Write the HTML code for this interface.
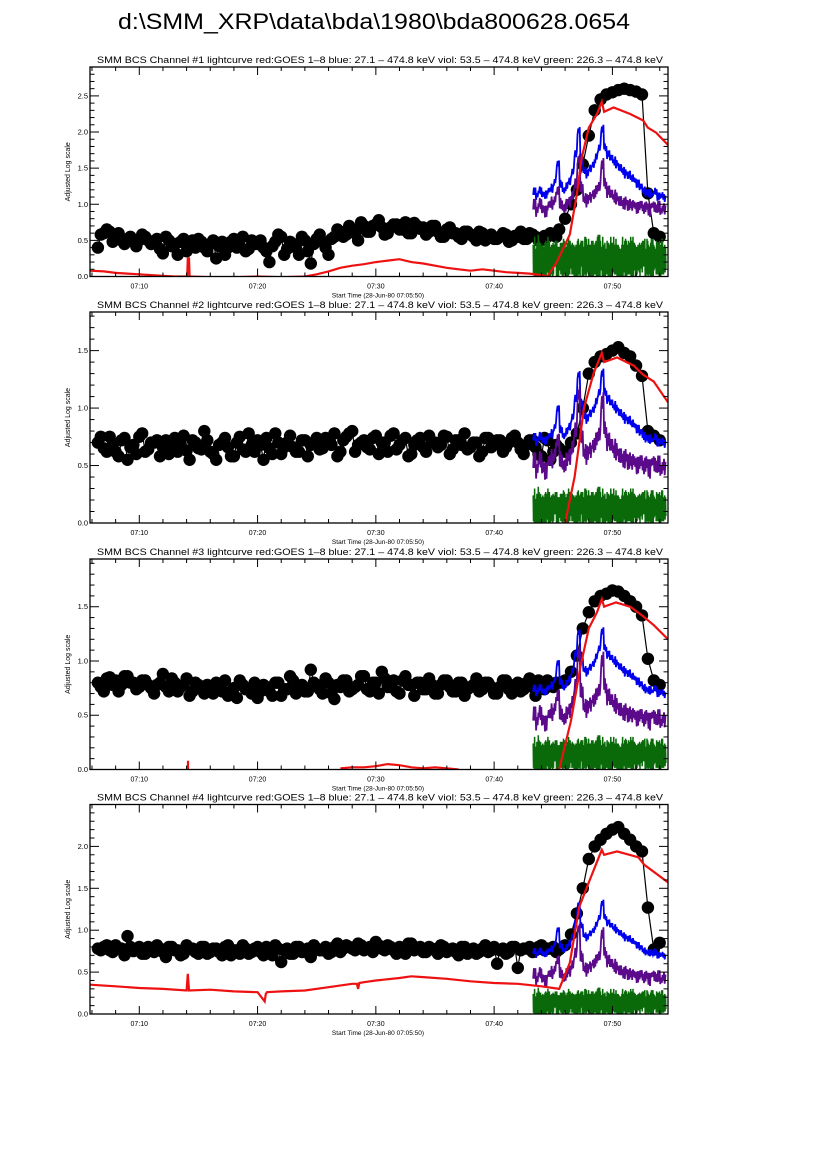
<!DOCTYPE html>
<html><head><meta charset="utf-8"><title>bda800628.0654</title>
<style>html,body{margin:0;padding:0;background:#fff}svg{display:block}text{font-family:"Liberation Sans",sans-serif}</style>
</head><body>
<svg id="chart" width="826" height="1169" viewBox="0 0 826 1169" xmlns="http://www.w3.org/2000/svg">
<rect width="826" height="1169" fill="#fff"/>
<text x="118" y="29" font-size="22" textLength="512" lengthAdjust="spacingAndGlyphs">d:\SMM_XRP\data\bda\1980\bda800628.0654</text>
</svg>
<script>
// ---------- data ----------
const xTickLabels = ["07:10","07:20","07:30","07:40","07:50"];
const xTickMinutes = [10,20,30,40,50];
const channelNames = ["#1","#2","#3","#4"];
const yMaxes = [2.9, 1.836, 1.94, 2.5];
const yTickLabels = [["0.0","0.5","1.0","1.5","2.0","2.5"],["0.0","0.5","1.0","1.5"],["0.0","0.5","1.0","1.5"],["0.0","0.5","1.0","1.5","2.0"]];

// black BCS points, one every 0.5 min from 6.5 to 54.0
const black1 = [0.40,0.60,0.62,0.55,0.50,0.52,0.48,0.50,
0.55,0.45,0.52,0.32,0.50,0.45,0.48,0.35,0.50,0.52,
0.40,0.45,0.25,0.48,0.40,0.52,0.42,0.35,0.50,0.45,
0.40,0.20,0.48,0.55,0.38,0.45,0.30,0.50,0.18,0.52,
0.48,0.30,0.55,0.62,0.58,0.65,0.50,0.70,0.62,0.72,
0.68,0.60,0.72,0.65,0.75,0.60,0.70,0.68,0.62,0.70,
0.55,0.65,0.60,0.55,0.62,0.58,0.50,0.60,0.55,0.52,
0.55,0.58,0.50,0.55,0.52,0.60,0.55,0.50,0.55,0.58,
0.65,0.80,1.00,1.20,1.55,1.95,2.30,2.45,2.52,2.55,
2.58,2.60,2.58,2.56,2.52,1.15,0.60,0.55];
const black2 = [0.70,0.65,0.75,0.62,0.72,0.55,0.68,0.75,
0.62,0.70,0.72,0.66,0.60,0.74,0.68,0.63,0.72,0.65,
0.80,0.62,0.55,0.70,0.66,0.58,0.75,0.62,0.68,0.72,
0.55,0.65,0.78,0.60,0.70,0.66,0.62,0.72,0.68,0.74,
0.65,0.70,0.78,0.62,0.75,0.80,0.68,0.72,0.64,0.76,
0.70,0.62,0.78,0.68,0.74,0.60,0.72,0.66,0.76,0.70,
0.68,0.75,0.64,0.72,0.78,0.66,0.70,0.62,0.74,0.68,
0.72,0.66,0.74,0.70,0.60,0.72,0.66,0.58,0.72,0.62,
0.65,0.62,0.70,0.78,1.00,1.30,1.40,1.45,1.47,1.50,
1.53,1.48,1.45,1.37,1.28,0.80,0.76,0.72];
const black3 = [0.80,0.72,0.85,0.82,0.78,0.86,0.80,0.76,
0.82,0.75,0.78,0.88,0.72,0.80,0.76,0.84,0.72,0.78,
0.70,0.76,0.80,0.72,0.68,0.75,0.82,0.74,0.70,0.66,
0.78,0.72,0.80,0.68,0.74,0.82,0.76,0.72,0.92,0.78,
0.70,0.80,0.65,0.76,0.82,0.74,0.78,0.86,0.72,0.80,
0.90,0.76,0.82,0.70,0.86,0.78,0.80,0.74,0.84,0.70,
0.78,0.82,0.72,0.80,0.68,0.76,0.84,0.74,0.80,0.70,
0.76,0.82,0.70,0.80,0.74,0.84,0.68,0.78,0.82,0.76,
0.80,0.82,0.90,1.05,1.30,1.45,1.55,1.60,1.62,1.65,
1.64,1.60,1.55,1.50,1.42,1.02,0.82,0.78];
const black4 = [0.78,0.80,0.76,0.82,0.78,0.93,0.75,0.80,
0.72,0.78,0.82,0.74,0.80,0.76,0.70,0.82,0.78,0.72,
0.80,0.74,0.78,0.70,0.82,0.76,0.72,0.78,0.74,0.80,
0.70,0.76,0.82,0.62,0.78,0.72,0.80,0.74,0.68,0.78,
0.76,0.72,0.80,0.74,0.82,0.78,0.84,0.76,0.80,0.86,
0.78,0.82,0.76,0.80,0.72,0.84,0.78,0.74,0.80,0.76,
0.82,0.74,0.78,0.70,0.80,0.76,0.72,0.78,0.74,0.80,
0.76,0.72,0.80,0.55,0.78,0.80,0.76,0.82,0.78,0.80,
0.77,0.82,0.95,1.20,1.50,1.85,2.00,2.08,2.15,2.20,
2.23,2.15,2.08,2.00,1.94,1.27,0.77,0.85];
// interleaved pre-flare points, every 0.5 min from 6.75 to 45.25
const black1b = [0.58,0.65,0.48,0.60,0.45,0.55,0.42,0.58,0.50,
0.48,0.38,0.55,0.42,0.30,0.52,0.45,0.40,0.48,
0.35,0.50,0.42,0.30,0.48,0.40,0.55,0.38,0.45,
0.50,0.35,0.42,0.58,0.30,0.48,0.40,0.55,0.35,
0.45,0.58,0.40,0.52,0.65,0.55,0.70,0.60,0.75,
0.62,0.70,0.78,0.58,0.68,0.72,0.65,0.60,0.74,
0.66,0.58,0.70,0.62,0.55,0.68,0.60,0.52,0.62,
0.55,0.62,0.50,0.58,0.52,0.60,0.48,0.56,0.62,
0.52,0.58,0.50,0.56,0.60,0.55];
const black2b = [0.75,0.62,0.68,0.58,0.74,0.66,0.60,0.78,0.64,
0.70,0.58,0.72,0.66,0.62,0.76,0.55,0.70,0.64,
0.72,0.60,0.68,0.74,0.58,0.70,0.64,0.78,0.62,
0.68,0.74,0.60,0.70,0.66,0.76,0.62,0.72,0.58,
0.70,0.64,0.74,0.68,0.58,0.72,0.78,0.62,0.70,
0.66,0.74,0.60,0.70,0.76,0.64,0.72,0.58,0.68,
0.74,0.62,0.70,0.66,0.76,0.60,0.72,0.68,0.64,
0.70,0.58,0.74,0.66,0.72,0.62,0.70,0.76,0.64,
0.68,0.72,0.60,0.74,0.55,0.68];
const black3b = [0.76,0.84,0.78,0.72,0.86,0.80,0.74,0.82,0.78,
0.70,0.80,0.76,0.84,0.72,0.78,0.68,0.80,0.74,
0.78,0.70,0.76,0.82,0.72,0.66,0.78,0.74,0.80,
0.72,0.76,0.68,0.80,0.74,0.86,0.70,0.78,0.72,
0.80,0.74,0.84,0.70,0.78,0.82,0.72,0.76,0.86,
0.74,0.80,0.70,0.84,0.76,0.72,0.82,0.78,0.68,
0.80,0.74,0.78,0.70,0.82,0.76,0.72,0.80,0.74,
0.78,0.72,0.80,0.76,0.70,0.82,0.74,0.78,0.72,
0.80,0.76,0.82,0.74,0.78,0.80];
const black4b = [0.76,0.82,0.74,0.78,0.70,0.80,0.76,0.72,0.80,
0.74,0.78,0.68,0.80,0.76,0.72,0.78,0.74,0.80,
0.72,0.78,0.74,0.80,0.70,0.76,0.82,0.72,0.78,
0.74,0.80,0.70,0.78,0.76,0.72,0.80,0.74,0.78,
0.82,0.76,0.80,0.74,0.84,0.78,0.80,0.76,0.82,
0.78,0.74,0.82,0.76,0.80,0.72,0.78,0.84,0.76,
0.80,0.74,0.78,0.72,0.80,0.76,0.74,0.80,0.72,
0.78,0.74,0.82,0.76,0.60,0.78,0.74,0.80,0.76,
0.78,0.74,0.80,0.76,0.78,0.74];
const blackSeries = [black1, black2, black3, black4];
const blackSeriesB = [black1b, black2b, black3b, black4b];

// GOES red curves (minutes after 07:00, value); null = gap
const red1T = [5.83,7,8,9,10,11,12,13,14.05,14.1,14.2,14.25,16,18,20,22,24,25,26,27,28,29,30,31,32,33,34,35,36,37,38,39,40,41,42,43,44,44.5,45.3,46.4,47.0,47.4,48.0,48.7,49.1,49.3,50.1,51.5,52.6,53.0,53.7,54.7];
const red1V = [0.08,0.07,0.05,0.04,0.03,0.02,0.01,0.0,0.0,0.25,0.25,0.0,-0.01,-0.01,0.0,-0.01,0.0,0.03,0.07,0.12,0.15,0.17,0.2,0.22,0.24,0.2,0.18,0.15,0.12,0.1,0.08,0.1,0.08,0.06,0.05,0.04,0.02,0.0,0.2,0.58,1.14,1.64,2.06,2.25,2.42,2.28,2.34,2.25,2.16,2.06,1.99,1.82];
const red2T = [45.9,46.8,47.6,48.4,49.1,49.3,50.4,51.8,52.6,53.5,54.7];
const red2V = [-0.05,0.4,1.0,1.3,1.48,1.4,1.44,1.37,1.29,1.23,1.05];
const red3T = [14.12,14.12,20,27,28,29,30,31,32,33,34,35,36,37,40,45.5,46.5,47.3,48.0,48.7,49.1,49.3,50.3,51.5,52.5,53.5,54.7];
const red3V = [0,0.08,null,0.01,0.02,0.02,0.03,0.05,0.04,0.02,0.01,0.02,0.01,0.0,null,0.0,0.45,0.95,1.3,1.45,1.57,1.5,1.54,1.5,1.42,1.33,1.2];
const red4T = [5.83,8,10,12,14.0,14.1,14.2,16,18,20,20.6,20.7,20.8,22,24,26,28,28.4,28.5,28.6,29,30,32,33,34,36,38,40,42,44,45.5,46.4,47.2,48.0,49.1,49.3,50.4,52.2,52.7,54.7];
const red4V = [0.35,0.33,0.31,0.30,0.28,0.48,0.28,0.29,0.27,0.26,0.15,0.24,0.26,0.27,0.28,0.32,0.36,0.36,0.30,0.37,0.38,0.40,0.43,0.45,0.44,0.42,0.39,0.37,0.36,0.33,0.30,0.61,1.28,1.57,1.96,1.9,1.94,1.87,1.78,1.57];
const redT = [red1T, red2T, red3T, red4T];
const redV = [red1V, red2V, red3V, red4V];

// HXR channels, normalised shape (0 = pre-flare level, 1 = peak), 0.25 min bins from 43.3
const blueShape = [0.02,-0.03,0.05,0.0,-0.02,0.04,0.08,
0.2,0.45,0.15,0.05,0.1,0.2,0.35,0.6,0.95,0.55,
0.35,0.3,0.4,0.45,0.55,0.7,1.0,0.7,0.6,0.55,
0.5,0.45,0.4,0.35,0.3,0.28,0.25,0.2,0.15,0.1,
0.05,0.02,0.0,-0.02,0.03,-0.05,-0.03,-0.06];
const violetShape = [0.05,-0.05,0.1,0.0,-0.08,0.05,0.1,
0.2,0.35,0.1,0.0,0.05,0.15,0.3,0.5,1.0,0.45,
0.2,0.15,0.25,0.3,0.35,0.45,0.95,0.5,0.35,0.3,
0.25,0.2,0.15,0.1,0.1,0.05,0.08,0.05,0.0,0.05,
0.0,0.05,-0.05,0.05,0.0,0.02,-0.05,0.0];
const greenHigh = [0.8,0.7,0.9,0.75,0.85,1.0,0.7,0.8,0.9,0.65,0.85,0.75,1.0,0.8,0.7,0.9,0.85,0.75,0.95,0.8,0.7,0.85,1.05,0.75,0.8,0.9,0.7,0.85,0.95,0.75,0.8,0.9,0.7,1.0,0.8,0.75,0.85,0.9,0.7,0.8,0.95,0.75,0.85,0.8,0.7];
const greenLow = [0.05,0.0,0.2,0.0,0.1,0.0,0.05,0.25,0.0,0.15,0.0,0.0,0.2,0.05,0.1,0.0,0.3,0.0,0.05,0.0,0.2,0.05,0.0,0.15,0.0,0.25,0.0,0.1,0.05,0.0,0.2,0.0,0.05,0.0,0.15,0.05,0.0,0.25,0.0,0.1,0.0,0.2,0.05,0.0,0.05];
const hxrNoise = [0.6,1.0,0.4,0.8,0.9,0.3,0.7,1.0,0.5,0.8,0.4,0.9,0.6,1.0,0.3,0.7,0.8,0.5,1.0,0.6,0.4,0.9,0.7,0.8,0.3,1.0,0.6,0.5,0.9,0.7,0.4,1.0,0.8,0.6,0.3,0.9,0.7,0.5,1.0,0.8,0.4,0.6,0.9,0.7,0.5];
const blueBase = [1.15,0.73,0.73,0.73];
const bluePeak = [2.05,1.31,1.28,1.33];
const violetBase = [0.95,0.50,0.47,0.44];
const violetPeak = [1.60,1.10,1.05,1.00];
const greenTop = [0.55,0.30,0.30,0.30];

// ---------- layout ----------
const NS = "http://www.w3.org/2000/svg";
const svg = document.getElementById("chart");
const L = 90, R = 668, tMin = 5.833, tMax = 54.7;
const panelTops = [67, 312, 559, 804.5];
const panelBottoms = [276.5, 523, 769.5, 1014];
const xs = t => L + (t - tMin) / (tMax - tMin) * (R - L);

function mk(tag, attrs, parent) {
  const e = document.createElementNS(NS, tag);
  for (const k in attrs) e.setAttribute(k, attrs[k]);
  (parent || svg).appendChild(e);
  return e;
}

const blackT = [];
for (let k = 0; k < 96; k++) blackT.push(6.5 + 0.5 * k);
const blackTB = [];
for (let k = 0; k < 78; k++) blackTB.push(6.75 + 0.5 * k);
const hxrT = [];
for (let k = 0; k < 45; k++) hxrT.push(43.3 + 0.25 * k);

for (let p = 0; p < 4; p++) {
  const top = panelTops[p], bot = panelBottoms[p], ymax = yMaxes[p];
  const ys = v => bot - v / ymax * (bot - top);
  const g = mk("g", {});
  
  

  const cp = mk("clipPath", { id: "clip" + p }, g);
  mk("rect", { x: L, y: top, width: R - L, height: bot - top }, cp);
  const plot = mk("g", { "clip-path": "url(#clip" + p + ")" }, g);
  
  

  // black line + dots (merge both samplings by time)
  const pts = [];
  blackT.forEach((t, i) => pts.push([t, blackSeries[p][i]]));
  blackTB.forEach((t, i) => pts.push([t, blackSeriesB[p][i]]));
  pts.sort((a, b) => a[0] - b[0]);
  const bl = mk("polyline", { points: pts.map(q => xs(q[0]).toFixed(1) + "," + ys(q[1]).toFixed(1)).join(" "), fill: "none", stroke: "#000", "stroke-width": 1.2 }, plot);
  
  
  pts.forEach(q => {
    const c = mk("circle", { cx: xs(q[0]).toFixed(1), cy: ys(q[1]).toFixed(1), r: 6.2, fill: "#000" }, plot);
    
    
  });

  // blue and violet HXR
  const band = (shape, base, peak, w, color, name) => {
    const pp = [];
    hxrT.forEach((t, i) => {
      const v = base + shape[i] * (peak - base);
      pp.push(xs(t).toFixed(1) + "," + ys(v - w * hxrNoise[i]).toFixed(1));
      pp.push(xs(t + 0.0625).toFixed(1) + "," + ys(v + w * hxrNoise[(i + 7) % 45]).toFixed(1));
      pp.push(xs(t + 0.125).toFixed(1) + "," + ys(v - w * hxrNoise[(i + 19) % 45]).toFixed(1));
      pp.push(xs(t + 0.1875).toFixed(1) + "," + ys(v + w * hxrNoise[(i + 31) % 45]).toFixed(1));
    });
    const pl = mk("polyline", { points: pp.join(" "), fill: "none", stroke: color, "stroke-width": 1.8 }, plot);
    
    
  };
  band(blueShape, blueBase[p], bluePeak[p], 0.07 * (bluePeak[p] - blueBase[p]), "#0000ee", "hxr-blue-27-474kev");
  band(violetShape, violetBase[p], violetPeak[p], 0.14 * (violetPeak[p] - violetBase[p]), "#5a0a8a", "hxr-violet-53-474kev");

  // green HXR
  const gp = [];
  hxrT.forEach((t, i) => {
    const j = (i * 7 + 3) % 45, k2 = (i * 11 + 5) % 45, k3 = (i * 13 + 9) % 45;
    gp.push(xs(t).toFixed(1) + "," + ys(greenTop[p] * greenHigh[i]).toFixed(1));
    gp.push(xs(t + 0.03).toFixed(1) + "," + ys(greenTop[p] * greenLow[i]).toFixed(1));
    gp.push(xs(t + 0.0625).toFixed(1) + "," + ys(greenTop[p] * greenHigh[j]).toFixed(1));
    gp.push(xs(t + 0.095).toFixed(1) + "," + ys(greenTop[p] * greenLow[j]).toFixed(1));
    gp.push(xs(t + 0.125).toFixed(1) + "," + ys(greenTop[p] * greenHigh[k2]).toFixed(1));
    gp.push(xs(t + 0.155).toFixed(1) + "," + ys(greenTop[p] * greenLow[k2]).toFixed(1));
    gp.push(xs(t + 0.1875).toFixed(1) + "," + ys(greenTop[p] * greenHigh[k3]).toFixed(1));
    gp.push(xs(t + 0.22).toFixed(1) + "," + ys(greenTop[p] * greenLow[k3]).toFixed(1));
  });
  const gl = mk("polyline", { points: gp.join(" "), fill: "none", stroke: "#0a6a0a", "stroke-width": 1.5 }, plot);
  
  

  // red GOES
  let d = "", pen = false;
  redT[p].forEach((t, i) => {
    const v = redV[p][i];
    if (v === null) { pen = false; return; }
    d += (pen ? "L" : "M") + xs(t).toFixed(1) + "," + ys(v).toFixed(1);
    pen = true;
  });
  const rp = mk("path", { d: d, fill: "none", stroke: "#ee1111", "stroke-width": 2.2 }, plot);
  
  

  // frame
  const fr = mk("rect", { x: L, y: top, width: R - L, height: bot - top, fill: "none", stroke: "#000", "stroke-width": 1.3 }, g);
  
  

  // y ticks
  for (let k = 0; k * 0.1 <= ymax + 1e-9; k++) {
    const v = k * 0.1, y = ys(v), major = k % 5 === 0, len = major ? 9 : 4.5;
    mk("line", { x1: L, x2: L + len, y1: y, y2: y, stroke: "#000", "stroke-width": 1 }, g);
    mk("line", { x1: R, x2: R - len, y1: y, y2: y, stroke: "#000", "stroke-width": 1 }, g);
  }
  yTickLabels[p].forEach((lab, k) => {
    const tx = mk("text", { x: 88, y: ys(k * 0.5) + 2.5, "font-size": 7.5, "text-anchor": "end" }, g);
    tx.textContent = lab;
    
    
  });
  // x ticks
  for (let m = 6; m <= 54; m += 2) {
    const x = xs(m), major = m % 10 === 0, len = major ? 8 : 4;
    mk("line", { x1: x, x2: x, y1: bot, y2: bot - len, stroke: "#000", "stroke-width": 1 }, g);
    mk("line", { x1: x, x2: x, y1: top, y2: top + len, stroke: "#000", "stroke-width": 1 }, g);
  }
  xTickMinutes.forEach((m, k) => {
    const tx = mk("text", { x: xs(m), y: bot + 12, "font-size": 7, "text-anchor": "middle" }, g);
    tx.textContent = xTickLabels[k];
    
    
  });
  const xt = mk("text", { x: 378, y: bot + 21, "font-size": 6.5, "text-anchor": "middle" }, g);
  xt.textContent = "Start Time (28-Jun-80 07:05:50)";
  
  
  const yc = (top + bot) / 2;
  const yt = mk("text", { x: 70, y: yc, "font-size": 7, "text-anchor": "middle", transform: "rotate(-90 70 " + yc + ")" }, g);
  yt.textContent = "Adjusted Log scale";
  
  
  const pt = mk("text", { x: 97, y: top - 4, "font-size": 9, textLength: 566, lengthAdjust: "spacingAndGlyphs" }, g);
  pt.textContent = "SMM BCS Channel " + channelNames[p] + " lightcurve  red:GOES 1\u20138  blue: 27.1 \u2013 474.8 keV  viol: 53.5 \u2013 474.8 keV  green: 226.3 \u2013 474.8 keV";
  
  
}
</script>
</body></html>
